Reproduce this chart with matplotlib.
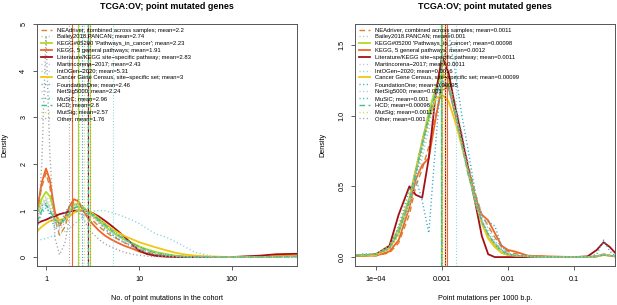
import numpy as np
import matplotlib
matplotlib.use('Agg')
import matplotlib.pyplot as plt

plt.rcParams['font.family'] = ['Liberation Sans', 'DejaVu Sans']

# gene set names and legend styles
names = ['NEAdriver, combined across samples', 'Bailey2018.PANCAN',
         "KEGG#05200 'Pathways_in_cancer'", 'KEGG, 5 general pathways',
         'Literature/KEGG site\u2212specific pathway', 'Martincorena\u22122017',
         'IntOGen\u22122020', 'Cancer Gene Census, site\u2212specific set',
         'FoundationOne', 'NetSig5000', 'MuSiC', 'HCD', 'MutSig', 'Other']
colors = ['#D9822B', '#B3C4A3', '#ADDC1E', '#F0652A', '#A50F15', '#C4B5D9',
          '#7ED3D6', '#F2C80F', '#2FA7C6', '#9ECAE1', '#30B8B0', '#3FBF8F',
          '#C2DA5A', '#9E9E9E']
styles = ['dashed', 'dotted', 'solid', 'solid', 'solid', 'dotted', 'dotted',
          'solid', 'dotted', 'dotted', 'dotted', 'dashed', 'dotted', 'dotted']

# left panel: number of point mutations in the cohort
left_x = [0.8, 0.9, 1.0, 1.1, 1.25, 1.4, 1.6, 1.8, 2.0, 2.2, 2.5, 2.8, 3.2, 3.7, 4.3,
          5, 6, 7, 8.5, 10, 12, 15, 20, 25, 30, 40, 60, 100, 200, 300, 500]
left_neadriver = [0.95, 1.5, 1.8, 1.5, 0.8, 0.47, 0.65, 1.0, 1.2, 1.22, 1.05, 0.9, 0.78, 0.66, 0.55,
                  0.46, 0.38, 0.31, 0.23, 0.17, 0.11, 0.06, 0.03, 0.015, 0.008, 0.003, 0, 0, 0.01, 0.02, 0.03]
left_bailey = [0.8, 1.1, 1.2, 1.05, 0.75, 0.62, 0.78, 0.98, 1.08, 1.1, 1.04, 0.96, 0.86, 0.75, 0.64,
               0.54, 0.43, 0.35, 0.27, 0.2, 0.14, 0.09, 0.045, 0.02, 0.01, 0.004, 0, 0, 0.005, 0.01, 0.015]
left_kegg05200 = [0.95, 1.25, 1.4, 1.3, 0.95, 0.78, 0.82, 1.0, 1.12, 1.15, 1.08, 0.98, 0.88, 0.77, 0.66,
                  0.56, 0.45, 0.38, 0.3, 0.23, 0.17, 0.11, 0.06, 0.03, 0.015, 0.005, 0, 0, 0, 0.01, 0.02]
left_kegg5 = [1.0, 1.6, 1.9, 1.65, 0.95, 0.68, 0.85, 1.1, 1.24, 1.2, 1.0, 0.85, 0.7, 0.57, 0.46,
              0.38, 0.3, 0.24, 0.18, 0.12, 0.08, 0.045, 0.02, 0.01, 0.005, 0, 0, 0, 0.01, 0.02, 0.03]
left_literature = [0.72, 0.77, 0.8, 0.84, 0.88, 0.92, 0.95, 0.98, 0.99, 1.0, 1.0, 0.98, 0.94, 0.87, 0.78,
                   0.68, 0.55, 0.43, 0.27, 0.14, 0.07, 0.025, 0.007, 0.002, 0, 0, 0, 0, 0.03, 0.06, 0.07]
left_martincorena = [0.6, 1.0, 1.25, 1.05, 0.7, 0.58, 0.74, 0.95, 1.05, 1.08, 1.02, 0.94, 0.84, 0.72, 0.6,
                     0.5, 0.4, 0.32, 0.24, 0.17, 0.11, 0.06, 0.025, 0.01, 0.005, 0, 0, 0, 0.005, 0.01, 0.01]
left_intogen = [0.35, 0.38, 0.4, 0.43, 0.47, 0.5, 0.55, 0.62, 0.7, 0.77, 0.86, 0.93, 0.98, 1.0, 0.99,
                0.96, 0.91, 0.86, 0.79, 0.72, 0.62, 0.5, 0.42, 0.32, 0.24, 0.1, 0.02, 0, 0, 0.005, 0.01]
left_cgc = [0.55, 0.65, 0.72, 0.77, 0.8, 0.8, 0.82, 0.88, 0.95, 1.0, 1.02, 1.0, 0.93, 0.83, 0.72,
            0.62, 0.52, 0.45, 0.38, 0.32, 0.27, 0.21, 0.14, 0.09, 0.06, 0.03, 0.01, 0, 0, 0.01, 0.02]
left_foundationone = [0.9, 1.1, 1.15, 0.9, 0.6, 0.68, 0.95, 1.1, 1.05, 0.95, 0.9, 0.95, 0.9, 0.76, 0.6,
                      0.5, 0.38, 0.3, 0.22, 0.15, 0.1, 0.06, 0.03, 0.015, 0.008, 0.003, 0, 0, 0, 0.005, 0.01]
left_netsig = [0.85, 1.15, 1.3, 1.2, 0.88, 0.74, 0.82, 1.0, 1.1, 1.12, 1.06, 0.97, 0.87, 0.76, 0.65,
               0.55, 0.44, 0.36, 0.28, 0.21, 0.15, 0.1, 0.05, 0.025, 0.012, 0.004, 0, 0, 0, 0.005, 0.01]
left_music = [0.7, 0.95, 1.05, 0.95, 0.78, 0.72, 0.82, 0.98, 1.06, 1.08, 1.05, 0.99, 0.92, 0.82, 0.71,
              0.6, 0.48, 0.39, 0.3, 0.22, 0.16, 0.1, 0.05, 0.025, 0.012, 0.004, 0, 0, 0, 0.005, 0.01]
left_hcd = [0.75, 1.0, 1.12, 1.0, 0.8, 0.72, 0.8, 0.96, 1.05, 1.08, 1.05, 0.98, 0.9, 0.8, 0.69,
            0.58, 0.47, 0.38, 0.29, 0.21, 0.15, 0.09, 0.045, 0.02, 0.01, 0.003, 0, 0, 0, 0.005, 0.01]
left_mutsig = [0.82, 1.12, 1.25, 1.1, 0.82, 0.7, 0.8, 0.98, 1.08, 1.1, 1.04, 0.96, 0.87, 0.76, 0.65,
               0.55, 0.44, 0.36, 0.28, 0.2, 0.14, 0.09, 0.045, 0.02, 0.01, 0.003, 0, 0, 0, 0.005, 0.01]
left_other = [0.3, 2.0, 4.75, 2.2, 0.4, 0.05, 0.3, 0.9, 1.15, 1.1, 0.85, 0.65, 0.5, 0.38, 0.28,
              0.22, 0.15, 0.1, 0.06, 0.04, 0.02, 0.01, 0.005, 0, 0, 0, 0, 0, 0, 0, 0]
left_means = [2.2, 2.74, 2.23, 1.91, 2.83, 2.43, 5.31, 3, 2.46, 2.24, 2.96, 2.8, 2.57, 1.76]

# right panel: point mutations per 1000 b.p.
right_x = [4.8e-5, 6.3e-5, 1e-4, 1.6e-4, 2.2e-4, 3.2e-4, 4e-4, 5e-4, 6.3e-4, 8e-4, 1e-3, 1.26e-3,
           1.6e-3, 2e-3, 2.5e-3, 3.2e-3, 4e-3, 5e-3, 6.3e-3, 8e-3, 0.01, 0.0126, 0.02, 0.04,
           0.1, 0.16, 0.22, 0.28, 0.35, 0.42]
right_neadriver = [0.01, 0.01, 0.01, 0.03, 0.1, 0.3, 0.5, 0.62, 0.78, 1.0, 1.18, 1.2, 1.02, 0.82, 0.65,
                   0.45, 0.3, 0.22, 0.14, 0.07, 0.04, 0.025, 0.01, 0.003, 0, 0, 0.005, 0.015, 0.01, 0.005]
right_bailey = [0.01, 0.015, 0.02, 0.06, 0.16, 0.38, 0.55, 0.75, 0.95, 1.12, 1.22, 1.18, 1.0, 0.78, 0.58,
                0.38, 0.24, 0.15, 0.09, 0.04, 0.02, 0.01, 0.005, 0, 0, 0, 0.005, 0.02, 0.01, 0.005]
right_kegg05200 = [0.01, 0.015, 0.02, 0.08, 0.2, 0.42, 0.62, 0.82, 1.02, 1.2, 1.3, 1.25, 1.05, 0.82, 0.6,
                   0.4, 0.24, 0.14, 0.08, 0.03, 0.015, 0.01, 0.005, 0, 0, 0, 0.005, 0.015, 0.01, 0.005]
right_kegg5 = [0.01, 0.01, 0.01, 0.04, 0.12, 0.35, 0.55, 0.65, 0.7, 0.98, 1.22, 1.2, 1.0, 0.82, 0.62,
               0.42, 0.3, 0.26, 0.17, 0.08, 0.05, 0.04, 0.01, 0.005, 0, 0, 0.005, 0.02, 0.01, 0.005]
right_literature = [0.01, 0.01, 0.02, 0.08, 0.3, 0.5, 0.44, 0.42, 0.7, 1.15, 1.42, 1.3, 1.05, 0.85, 0.62,
                    0.38, 0.15, 0.02, 0, 0, 0, 0, 0, 0, 0, 0.005, 0.05, 0.105, 0.07, 0.03]
right_martincorena = [0.015, 0.015, 0.02, 0.07, 0.18, 0.4, 0.58, 0.78, 0.98, 1.15, 1.25, 1.2, 1.02, 0.8, 0.6,
                      0.4, 0.26, 0.16, 0.1, 0.05, 0.02, 0.012, 0.005, 0, 0, 0, 0.005, 0.02, 0.01, 0.005]
right_intogen = [0.015, 0.02, 0.02, 0.06, 0.15, 0.36, 0.52, 0.7, 0.9, 1.08, 1.2, 1.22, 1.1, 0.88, 0.66,
                 0.45, 0.3, 0.2, 0.12, 0.06, 0.03, 0.015, 0.005, 0, 0, 0, 0.005, 0.02, 0.01, 0.005]
right_cgc = [0.01, 0.01, 0.015, 0.06, 0.17, 0.4, 0.6, 0.8, 0.98, 1.12, 1.15, 1.1, 0.95, 0.78, 0.6,
             0.4, 0.24, 0.13, 0.07, 0.03, 0.015, 0.01, 0.005, 0, 0, 0, 0.005, 0.015, 0.01, 0.005]
right_foundationone = [0.01, 0.02, 0.02, 0.06, 0.22, 0.48, 0.56, 0.4, 0.17, 0.8, 1.35, 1.58, 1.3, 1.0, 0.75,
                       0.45, 0.27, 0.25, 0.22, 0.08, 0.02, 0.01, 0.01, 0, 0, 0, 0.02, 0.12, 0.04, 0.01]
right_netsig = [0.01, 0.015, 0.02, 0.07, 0.19, 0.41, 0.6, 0.8, 1.0, 1.18, 1.28, 1.22, 1.02, 0.8, 0.58,
                0.38, 0.24, 0.15, 0.09, 0.04, 0.02, 0.01, 0.005, 0, 0, 0, 0.005, 0.015, 0.01, 0.005]
right_music = [0.015, 0.02, 0.02, 0.06, 0.17, 0.39, 0.57, 0.77, 0.97, 1.14, 1.24, 1.2, 1.02, 0.8, 0.6,
               0.4, 0.26, 0.17, 0.1, 0.05, 0.025, 0.012, 0.005, 0, 0, 0, 0.005, 0.02, 0.01, 0.005]
right_hcd = [0.01, 0.015, 0.02, 0.07, 0.18, 0.4, 0.6, 0.8, 1.0, 1.16, 1.25, 1.2, 1.0, 0.79, 0.58,
             0.39, 0.25, 0.16, 0.09, 0.04, 0.02, 0.01, 0.005, 0, 0, 0, 0.005, 0.015, 0.01, 0.005]
right_mutsig = [0.015, 0.015, 0.02, 0.08, 0.2, 0.42, 0.62, 0.83, 1.03, 1.2, 1.28, 1.22, 1.02, 0.8, 0.58,
                0.38, 0.24, 0.15, 0.09, 0.04, 0.02, 0.01, 0.005, 0, 0, 0, 0.005, 0.02, 0.01, 0.005]
right_other = [0.01, 0.01, 0.02, 0.07, 0.2, 0.42, 0.62, 0.82, 1.0, 1.16, 1.25, 1.2, 1.02, 0.8, 0.6,
               0.4, 0.26, 0.16, 0.1, 0.05, 0.02, 0.01, 0.005, 0, 0, 0, 0.005, 0.015, 0.01, 0.005]
right_means = [0.0011, 0.001, 0.00098, 0.0012, 0.0011, 0.0011, 0.0016, 0.00099, 0.00095, 0.001,
               0.001, 0.00098, 0.0011, 0.001]

left_series = [left_neadriver, left_bailey, left_kegg05200, left_kegg5, left_literature,
               left_martincorena, left_intogen, left_cgc, left_foundationone, left_netsig,
               left_music, left_hcd, left_mutsig, left_other]
right_series = [right_neadriver, right_bailey, right_kegg05200, right_kegg5, right_literature,
                right_martincorena, right_intogen, right_cgc, right_foundationone, right_netsig,
                right_music, right_hcd, right_mutsig, right_other]


def dash_for(style):
    if style == 'dashed':
        return (4, 2.5)
    if style == 'dotted':
        return (0.8, 1.8)
    return None


def draw_panel(ax, xs, series, means, xlim, ylim, xticks, xticklabels, yticks, yticklabels, xlabel):
    for ys, col, st in zip(series, colors, styles):
        lw = 1.3 if st == 'solid' else 1.0
        line, = ax.plot(xs, ys, color=col, lw=lw)
        if dash_for(st):
            line.set_dashes(dash_for(st))
    handles = []
    for m, col, st, nm in zip(means, colors, styles, names):
        line = ax.axvline(m, color=col, lw=0.8)
        if dash_for(st):
            line.set_dashes(dash_for(st))
        h, = ax.plot([], [], color=col, lw=1.3 if st == 'solid' else 1.0,
                     label='%s; mean=%s' % (nm, '%g' % m))
        if dash_for(st):
            h.set_dashes(dash_for(st))
        handles.append(h)
    ax.set_xscale('log')
    ax.set_xlim(*xlim)
    ax.set_ylim(*ylim)
    ax.set_xticks(xticks)
    ax.set_xticklabels(xticklabels)
    ax.minorticks_off()
    ax.set_yticks(yticks)
    ax.set_yticklabels(yticklabels, rotation=90, va='center')
    ax.tick_params(direction='out', length=3, width=0.6, colors='#444444',
                   labelsize=5.2, labelcolor='black', pad=4)
    for sp in ax.spines.values():
        sp.set_color('#555555')
        sp.set_linewidth(0.7)
    ax.set_title('TCGA:OV; point mutated genes', fontsize=6.4, fontweight='bold', pad=11)
    ax.set_xlabel(xlabel, fontsize=5.2)
    ax.set_ylabel('Density', fontsize=5.2)
    ax.xaxis.set_label_coords(0.5, -0.136)
    ax.xaxis.label.set_va('center')
    ax.yaxis.set_label_coords(-0.123, 0.5)
    ax.yaxis.label.set_va('center')
    ax.legend(handles=handles, loc='upper left', bbox_to_anchor=(0.0, 1.0), frameon=False,
              fontsize=4.2, labelspacing=0.3, handlelength=2.0, handletextpad=0.9,
              borderaxespad=0.0, borderpad=0.6)


fig = plt.figure(figsize=(6.17, 3.05), dpi=100)
ax1 = fig.add_axes([37 / 617, 39 / 305, 260 / 617, 242 / 305])
ax2 = fig.add_axes([355 / 617, 39 / 305, 260 / 617, 242 / 305])

draw_panel(ax1, left_x, left_series, left_means, (0.8, 501), (-0.192, 4.99),
           [1, 10, 100], ['1', '10', '100'], [0, 1, 2, 3, 4, 5], ['0', '1', '2', '3', '4', '5'],
           'No. of point mutations in the cohort')
draw_panel(ax2, right_x, right_series, right_means, (4.8e-5, 0.417), (-0.063, 1.648),
           [1e-4, 1e-3, 1e-2, 1e-1], ['1e\u221204', '0.001', '0.01', '0.1'],
           [0, 0.5, 1.0, 1.5], ['0.0', '0.5', '1.0', '1.5'],
           'Point mutations per 1000 b.p.')

fig.savefig('out.png', dpi=100)
